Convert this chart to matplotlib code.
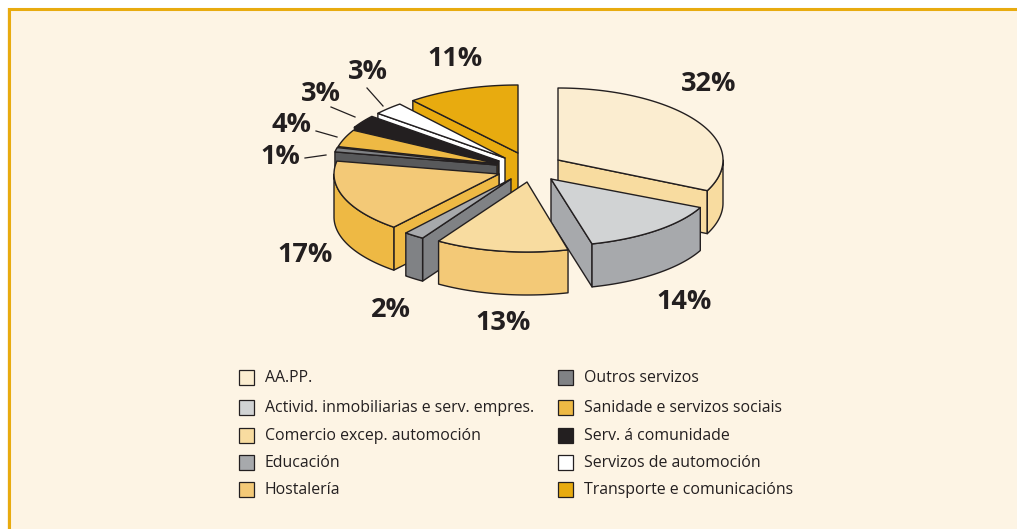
import numpy as np
import matplotlib
matplotlib.use("Agg")
import matplotlib.pyplot as plt
from matplotlib.patches import Polygon, Rectangle

categories = ["AA.PP.", "Actividad", "Comercio", "Educación", "Hostalería",
              "Outros", "Sanidade", "Serv. comunidade", "Servizos auto", "Transporte"]
values = [32, 14, 13, 2, 17, 1, 4, 3, 3, 11]

left_legend = ["AA.PP.", "Activid. inmobiliarias e serv. empres.",
               "Comercio excep. automoción", "Educación", "Hostalería"]
right_legend = ["Outros servizos", "Sanidade e servizos sociais",
                "Serv. á comunidade", "Servizos de automoción",
                "Transporte e comunicacións"]

top_colors = ["#FBEDD0", "#D1D3D4", "#F8DCA0", "#A7A9AC", "#F3C977",
              "#808285", "#EEB944", "#231F20", "#FFFFFF", "#E8AB0F"]
side_colors = ["#F8DCA0", "#A7A9AC", "#F3C977", "#808285", "#EEB944",
               "#58595B", "#E8AB0F", "#231F20", "#FFFFFF", "#E8AB0F"]

# layout, all in picture pixels
CX, CY = 497, 165
RX = 165
DEPTH = 43
slice_ry = [72, 67, 70, 70, 69, 70, 70, 70, 70, 68]
offsets = [(61, -5), (54, 14), (30, 17), (14, 14), (2, 9),
           (0, 0), (1, -1), (2, -4), (8, -7), (21, -12)]
draw_order = [9, 8, 7, 6, 5, 4, 0, 1, 3, 2]

label_pos = [(709, 84), (684, 302), (503, 323), (391, 310), (305, 255),
             (280, 157), (292, 125), (321, 94), (368, 72), (455, 59)]
leaders = {5: ((305, 158), (326, 155)), 6: ((316, 131), (337, 137)),
           7: ((331, 107), (355, 117)), 8: ((367, 88), (383, 106))}

INK = "#231F20"

plt.rcParams["font.family"] = ["Open Sans", "DejaVu Sans"]

fig = plt.figure(figsize=(10.17, 5.29), dpi=100, facecolor="#FDF4E4")
ax = fig.add_axes([0, 0, 1, 1])
ax.set_xlim(0, 1017)
ax.set_ylim(529, 0)
ax.axis("off")

# frame, only top and left show
ax.add_patch(Rectangle((0, 0), 1017, 8, fc="white", ec="none"))
ax.add_patch(Rectangle((0, 0), 7, 529, fc="white", ec="none"))
ax.plot([8.5, 8.5, 1017], [529, 9, 9], color="#E8AB0F", lw=2.2, solid_joinstyle="miter")


def rim(apex, ry, t):
    return apex[0] + RX * np.sin(t), apex[1] - ry * np.cos(t)


def face(points, color, z):
    ax.add_patch(Polygon(points, closed=True, fc=color, ec=INK, lw=1.0,
                         joinstyle="round", zorder=z))


def draw_slice(apex, ry, t0, t1, top, side, z):
    # start radial wall
    if np.sin(t0) < -1e-6:
        x, y = rim(apex, ry, t0)
        face([apex, (x, y), (x, y + DEPTH), (apex[0], apex[1] + DEPTH)], side, z)
    # end radial wall
    if np.sin(t1) > 1e-6:
        x, y = rim(apex, ry, t1)
        face([apex, (x, y), (x, y + DEPTH), (apex[0], apex[1] + DEPTH)], side, z)
    # outer wall, only the front half of the ellipse
    a = max(t0, np.pi / 2)
    b = min(t1, 3 * np.pi / 2)
    if a < b:
        ts = np.linspace(a, b, 60)
        xs, ys = rim(apex, ry, ts)
        upper = list(zip(xs, ys))
        lower = list(zip(xs[::-1], ys[::-1] + DEPTH))
        face(upper + lower, side, z)
    ts = np.linspace(t0, t1, 80)
    xs, ys = rim(apex, ry, ts)
    face([apex] + list(zip(xs, ys)), top, z)


edges = np.radians(np.concatenate([[0], np.cumsum(values)]) * 3.6)
for z, i in enumerate(draw_order):
    apex = (CX + offsets[i][0], CY + offsets[i][1])
    draw_slice(apex, slice_ry[i], edges[i], edges[i + 1], top_colors[i], side_colors[i], z + 2)

for i, v in enumerate(values):
    ax.text(label_pos[i][0], label_pos[i][1], f"{v}%", fontsize=19.5, fontweight="bold",
            color=INK, ha="center", va="center", zorder=30)

for p, q in leaders.values():
    ax.plot([p[0], q[0]], [p[1], q[1]], color=INK, lw=0.9, zorder=30)

rows = [377, 407, 435, 462, 489]
for col_x, names, colors in [(239, left_legend, top_colors[:5]), (558, right_legend, top_colors[5:])]:
    for y, name, color in zip(rows, names, colors):
        ax.add_patch(Rectangle((col_x, y - 7.5), 15, 15, fc=color, ec=INK, lw=0.9, zorder=30))
        ax.text(col_x + 26, y + 1, name, fontsize=11.4, color=INK, ha="left", va="center", zorder=30)

fig.savefig("out.png", dpi=100, facecolor=fig.get_facecolor())
